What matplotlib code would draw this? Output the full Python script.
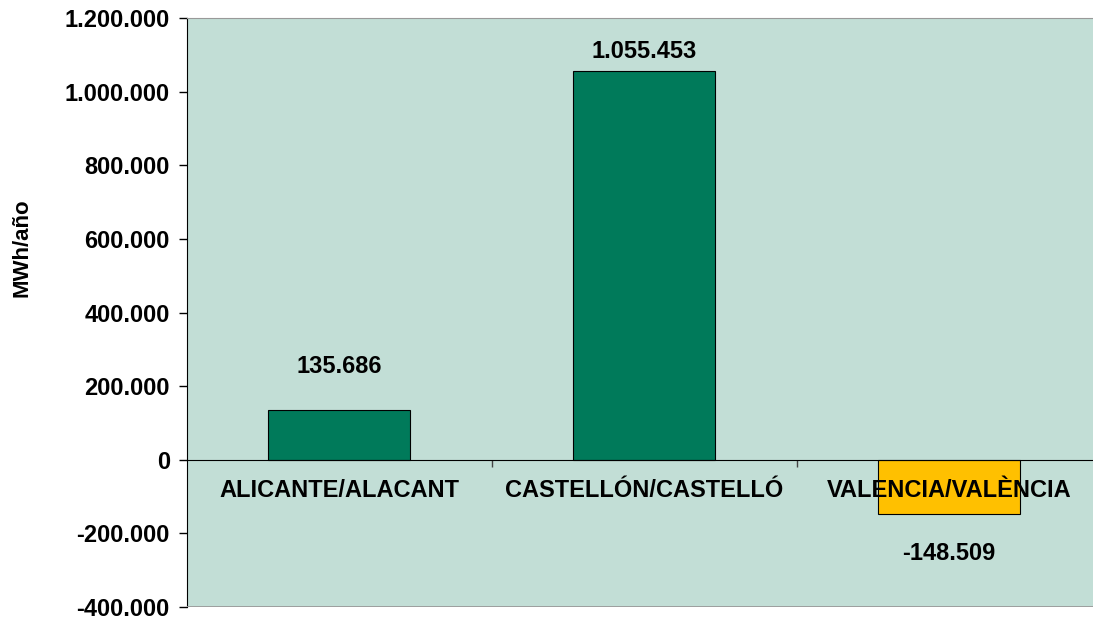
import matplotlib.pyplot as plt
from matplotlib.ticker import FuncFormatter

plt.rcParams['font.family'] = ['Liberation Sans', 'DejaVu Sans']
plt.rcParams['font.weight'] = 'bold'

# datos
provincias = ['ALICANTE/ALACANT', 'CASTELLÓN/CASTELLÓ', 'VALENCIA/VALÈNCIA']
valores = [135686, 1055453, -148509]
etiquetas = ['135.686', '1.055.453', '-148.509']
colores = ['#007A5A', '#007A5A', '#FFC000']

fig = plt.figure(figsize=(10.93, 6.2), dpi=100)
ax = fig.add_axes([186.5 / 1093, 13 / 620, 915 / 1093, 589 / 620])
ax.set_facecolor('#C2DED6')

x = range(len(provincias))
ax.bar(x, valores, width=0.466, color=colores, edgecolor='black', linewidth=0.8, zorder=2)

ax.set_xlim(-0.5, 2.5)
ax.set_ylim(-400000, 1200000)
ax.set_yticks(range(-400000, 1200001, 200000))
ax.yaxis.set_major_formatter(FuncFormatter(lambda v, p: f"{int(v):,}".replace(',', '.')))
ax.tick_params(axis='y', labelsize=17, length=6, width=1, pad=6)

# eje x en el cero
ax.spines['left'].set_color('black')
ax.spines['bottom'].set_position(('data', 0))
ax.spines['bottom'].set_color('black')
ax.spines['top'].set_color('#999999')
ax.spines['right'].set_visible(False)
ax.axhline(-400000, color='#999999', linewidth=2, zorder=3)
ax.set_xticks([0.5, 1.5])
ax.set_xticklabels([])
ax.tick_params(axis='x', direction='out', length=5, width=1, color='#444444')

for i, nombre in enumerate(provincias):
    ax.annotate(nombre, (i, 0), xytext=(0, -22), textcoords='offset points',
                ha='center', va='center', fontsize=17, fontweight='bold', zorder=4)

desplaz = [31, 14, -28]
for i, (v, txt) in enumerate(zip(valores, etiquetas)):
    ax.annotate(txt, (i, v), xytext=(0, desplaz[i]), textcoords='offset points',
                ha='center', va='center', fontsize=17, fontweight='bold')

ax.set_ylabel('MWh/año', fontsize=16, fontweight='bold')
ax.yaxis.set_label_coords(-0.168, 0.61)

fig.savefig('out.png', dpi=100)
